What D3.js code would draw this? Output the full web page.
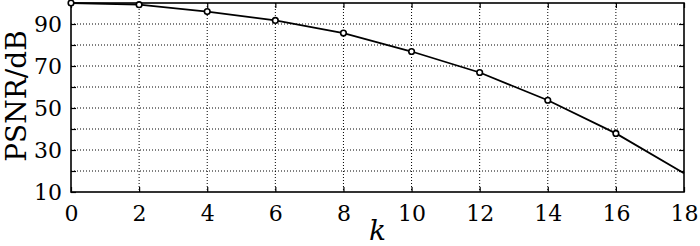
<!DOCTYPE html>
<html>
  <head>
    <script src="https://d3js.org/d3.v7.min.js"></script>
    <style>
      body { margin: 0; background: #fff; }
      text { font-family: "DejaVu Serif", serif; fill: #000; }
    </style>
  </head>
  <body>
    <script>
      // PSNR vs k
      var kValues = [0, 2, 4, 6, 8, 10, 12, 14, 16, 18];
      var psnr = [100, 99.2, 95.9, 91.7, 85.7, 76.9, 66.9, 53.7, 37.9, 18.9];
      var markerK = [0, 2, 4, 6, 8, 10, 12, 14, 16];
      var xTicks = [0, 2, 4, 6, 8, 10, 12, 14, 16, 18];
      var yTickLabels = [10, 30, 50, 70, 90];
      var yGrid = [20, 30, 40, 50, 60, 70, 80, 90];

      var W = 700, H = 246;
      var margin = {top: 3, right: 16, bottom: 54, left: 71};
      var w = W - margin.left - margin.right;
      var h = H - margin.top - margin.bottom;

      var svg = d3.select("body").append("svg")
          .attr("width", W)
          .attr("height", H);

      var g = svg.append("g")
          .attr("transform", `translate(${margin.left},${margin.top})`);

      var x = d3.scaleLinear().domain([0, 18]).range([0, w]);
      var y = d3.scaleLinear().domain([10, 100]).range([h, 0]);

      // grid
      g.selectAll(".vgrid")
        .data(xTicks.slice(1, -1))
        .enter().append("line")
        .attr("x1", d => x(d)).attr("x2", d => x(d))
        .attr("y1", 0).attr("y2", h)
        .attr("stroke", "#000")
        .attr("stroke-width", 1)
        .attr("stroke-dasharray", "1,2");

      g.selectAll(".hgrid")
        .data(yGrid)
        .enter().append("line")
        .attr("x1", 0).attr("x2", w)
        .attr("y1", d => y(d)).attr("y2", d => y(d))
        .attr("stroke", "#000")
        .attr("stroke-width", 1)
        .attr("stroke-dasharray", "1,2");

      // axes with inward ticks
      var tl = 5;
      var xb = g.append("g").attr("transform", `translate(0,${h})`)
        .call(d3.axisBottom(x).tickValues(xTicks).tickSizeInner(-tl).tickSizeOuter(0).tickPadding(13));
      var xt = g.append("g")
        .call(d3.axisTop(x).tickValues(xTicks).tickSizeInner(-tl).tickSizeOuter(0).tickFormat(""));
      var yl = g.append("g")
        .call(d3.axisLeft(y).tickValues(yGrid.concat([10])).tickSizeInner(-tl).tickSizeOuter(0).tickPadding(9)
          .tickFormat(d => yTickLabels.indexOf(d) >= 0 ? d : ""));
      var yr = g.append("g").attr("transform", `translate(${w},0)`)
        .call(d3.axisRight(y).tickValues(yGrid).tickSizeInner(-tl).tickSizeOuter(0).tickFormat(""));

      [xb, xt, yl, yr].forEach(function(a) {
        a.select(".domain").remove();
        a.selectAll("line").attr("stroke", "#000").attr("stroke-width", 1.2);
        a.selectAll("text").style("font-family", "DejaVu Serif").style("font-size", "22px").attr("fill", "#000");
      });
      xb.selectAll("text").attr("dy", "0.71em");
      yl.selectAll("text").attr("dy", "0.32em");

      // frame
      g.append("rect")
        .attr("width", w).attr("height", h)
        .attr("fill", "none")
        .attr("stroke", "#000")
        .attr("stroke-width", 1.6);

      // line
      var data = kValues.map((k, i) => [k, psnr[i]]);
      g.append("path")
        .datum(data)
        .attr("fill", "none")
        .attr("stroke", "#000")
        .attr("stroke-width", 1.8)
        .attr("d", d3.line().x(d => x(d[0])).y(d => y(d[1])));

      g.selectAll("circle")
        .data(data.filter(d => markerK.indexOf(d[0]) >= 0))
        .enter().append("circle")
        .attr("cx", d => x(d[0]))
        .attr("cy", d => y(d[1]))
        .attr("r", 2.8)
        .attr("fill", "#fff")
        .attr("stroke", "#000")
        .attr("stroke-width", 1.6);

      // labels
      svg.append("text")
        .attr("transform", "translate(26,96) rotate(-90)")
        .attr("text-anchor", "middle")
        .style("font-size", "28px")
        .text("PSNR/dB");

      svg.append("text")
        .attr("x", margin.left + x(9))
        .attr("y", 240)
        .attr("text-anchor", "middle")
        .style("font-size", "28px")
        .style("font-style", "italic")
        .text("k");
    </script>
  </body>
</html>
